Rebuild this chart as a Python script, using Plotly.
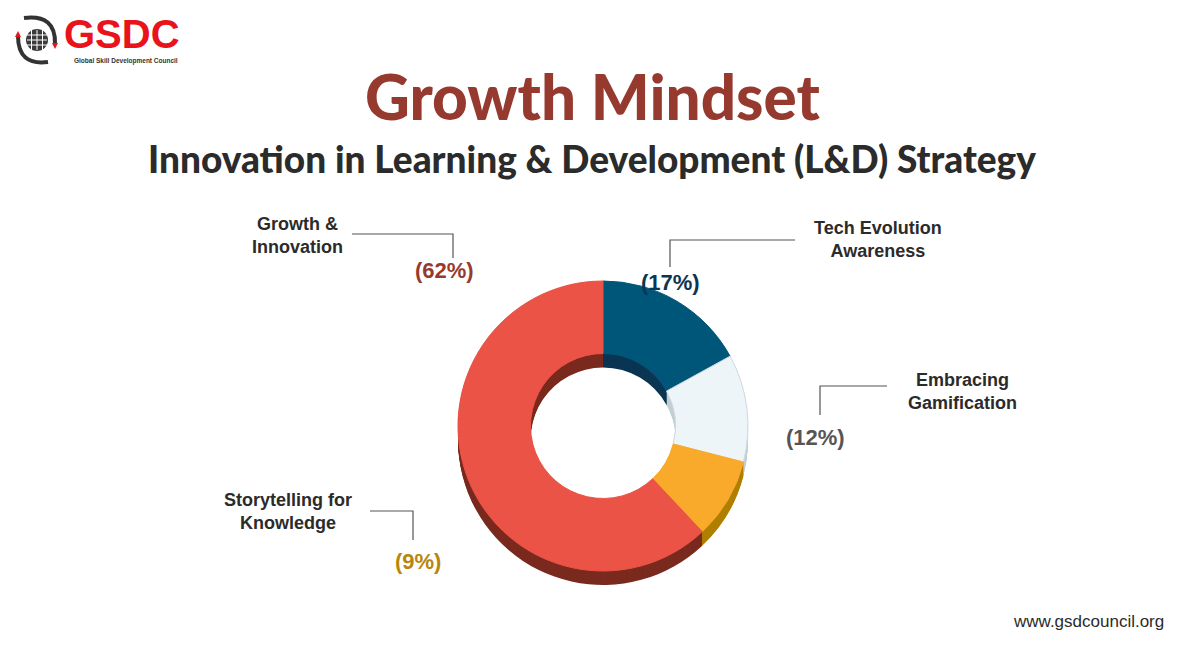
import plotly.graph_objects as go

# slice data, clockwise from 12 o'clock
categories = ["Tech Evolution Awareness", "Embracing Gamification", "Storytelling for Knowledge", "Growth & Innovation"]
shares = [17, 12, 9, 62]
top_colors = ["#005679", "#EEF5F8", "#FAAA2B", "#EA5345"]
side_colors = ["#0A3553", "#C3CED4", "#B07F00", "#7A2A1E"]
edge_colors = ["#005679", "#CFD9DE", "#FAAA2B", "#EA5345"]
label_text = ["Tech Evolution<br>Awareness", "Embracing<br>Gamification", "Storytelling for<br>Knowledge", "Growth &<br>Innovation"]
pct_colors = ["#0B3554", "#555555", "#B8860B", "#963A2F"]

W, H = 1200, 650
OFF = 8  # page body margin


def px(x):
    return (x - OFF) / W


def py(y):
    return 1 - (y - OFF) / H


fig = go.Figure()

# fake extrusion: darker copies of the donut stacked downwards
cx, cy, d, depth = 603, 426, 290, 14
for k in range(depth, 0, -1):
    fig.add_trace(go.Pie(
        labels=categories, values=shares, hole=0.5, sort=False, direction="clockwise", rotation=0,
        marker=dict(colors=side_colors, line=dict(width=0)),
        textinfo="none", hoverinfo="skip", showlegend=False,
        domain=dict(x=[px(cx - d / 2), px(cx + d / 2)], y=[py(cy + d / 2 + k), py(cy - d / 2 + k)]),
    ))
fig.add_trace(go.Pie(
    labels=categories, values=shares, hole=0.5, sort=False, direction="clockwise", rotation=0,
    marker=dict(colors=top_colors, line=dict(width=1, color=edge_colors)),
    textinfo="none", showlegend=False,
    hovertemplate="%{label}: %{value}%<extra></extra>",
    domain=dict(x=[px(cx - d / 2), px(cx + d / 2)], y=[py(cy + d / 2), py(cy - d / 2)]),
))

# label placement (pixels): text centre, percent centre, elbow line
label_pos = [(878, 239), (963, 391), (288, 512), (297, 236)]
pct_pos = [(670, 282), (815, 437), (418, 561), (444, 270)]
elbows = [
    [(795, 240), (670, 240), (670, 267)],
    [(887, 386), (820, 386), (820, 415)],
    [(370, 511), (413, 511), (413, 540)],
    [(352, 234), (453, 234), (453, 258)],
]

anns = []
shapes = []
for i in range(len(categories)):
    lx, ly = label_pos[i]
    anns.append(dict(x=px(lx), y=py(ly), xref="paper", yref="paper", text="<b>" + label_text[i] + "</b>",
                     showarrow=False, xanchor="center", yanchor="middle",
                     font=dict(family="Liberation Sans", size=18, color="#2B2B2B")))
    qx, qy = pct_pos[i]
    anns.append(dict(x=px(qx), y=py(qy), xref="paper", yref="paper", text="<b>(%d%%)</b>" % shares[i],
                     showarrow=False, xanchor="center", yanchor="middle",
                     font=dict(family="Liberation Sans", size=22, color=pct_colors[i])))
    pts = elbows[i]
    path = "M %f,%f" % (px(pts[0][0]), py(pts[0][1]))
    for p in pts[1:]:
        path += " L %f,%f" % (px(p[0]), py(p[1]))
    shapes.append(dict(type="path", path=path, xref="paper", yref="paper",
                       line=dict(color="#555555", width=1.2)))

# titles
anns.append(dict(x=px(592), y=py(96), xref="paper", yref="paper", text="Growth Mindset", showarrow=False,
                 xanchor="center", yanchor="middle",
                 font=dict(family="Lato", size=62, weight=900, color="#963A2F")))
anns.append(dict(x=px(592), y=py(158), xref="paper", yref="paper",
                 text="Innovation in Learning & Development (L&D) Strategy", showarrow=False,
                 xanchor="center", yanchor="middle",
                 font=dict(family="Lato", size=37, weight=900, color="#2B2B2B")))
anns.append(dict(x=px(1088), y=py(621), xref="paper", yref="paper", text="www.gsdcouncil.org", showarrow=False,
                 xanchor="center", yanchor="middle", font=dict(family="Liberation Sans", size=17, color="#2B2B2B")))

# logo
anns.append(dict(x=px(122), y=py(34), xref="paper", yref="paper", text="<b>GSDC</b>", showarrow=False,
                 xanchor="center", yanchor="middle", font=dict(family="Liberation Sans", size=40, color="#E8131B")))
anns.append(dict(x=px(126), y=py(61), xref="paper", yref="paper", text="<b>Global Skill Development Council</b>",
                 showarrow=False, xanchor="center", yanchor="middle",
                 font=dict(family="Liberation Sans", size=6.5, color="#333333")))
shapes.append(dict(type="circle", xref="paper", yref="paper", x0=px(26), x1=px(48), y0=py(51), y1=py(29),
                   fillcolor="#3A3A3A", line=dict(width=0)))
for gx in [31.5, 37, 42.5]:
    shapes.append(dict(type="line", xref="paper", yref="paper", x0=px(gx), x1=px(gx), y0=py(30), y1=py(50),
                       line=dict(color="white", width=1)))
for gy in [35, 40, 45]:
    shapes.append(dict(type="line", xref="paper", yref="paper", x0=px(27), x1=px(47), y0=py(gy), y1=py(gy),
                       line=dict(color="white", width=1)))
shapes.append(dict(type="path", xref="paper", yref="paper",
                   path="M %f,%f Q %f,%f %f,%f" % (px(24), py(18), px(56), py(14), px(55), py(44)),
                   line=dict(color="#333333", width=4)))
shapes.append(dict(type="path", xref="paper", yref="paper",
                   path="M %f,%f Q %f,%f %f,%f" % (px(18), py(36), px(18), py(66), px(48), py(62)),
                   line=dict(color="#333333", width=4)))
shapes.append(dict(type="path", xref="paper", yref="paper",
                   path="M %f,%f L %f,%f L %f,%f Z" % (px(15), py(37), px(21), py(37), px(18), py(31)),
                   fillcolor="#E8131B", line=dict(width=0)))
shapes.append(dict(type="path", xref="paper", yref="paper",
                   path="M %f,%f L %f,%f L %f,%f Z" % (px(52), py(43), px(58), py(43), px(55), py(49)),
                   fillcolor="#E8131B", line=dict(width=0)))

fig.update_layout(
    width=W, height=H,
    margin=dict(l=0, r=0, t=0, b=0),
    paper_bgcolor="white", plot_bgcolor="white",
    annotations=anns, shapes=shapes,
)

fig.write_html("out.html")
